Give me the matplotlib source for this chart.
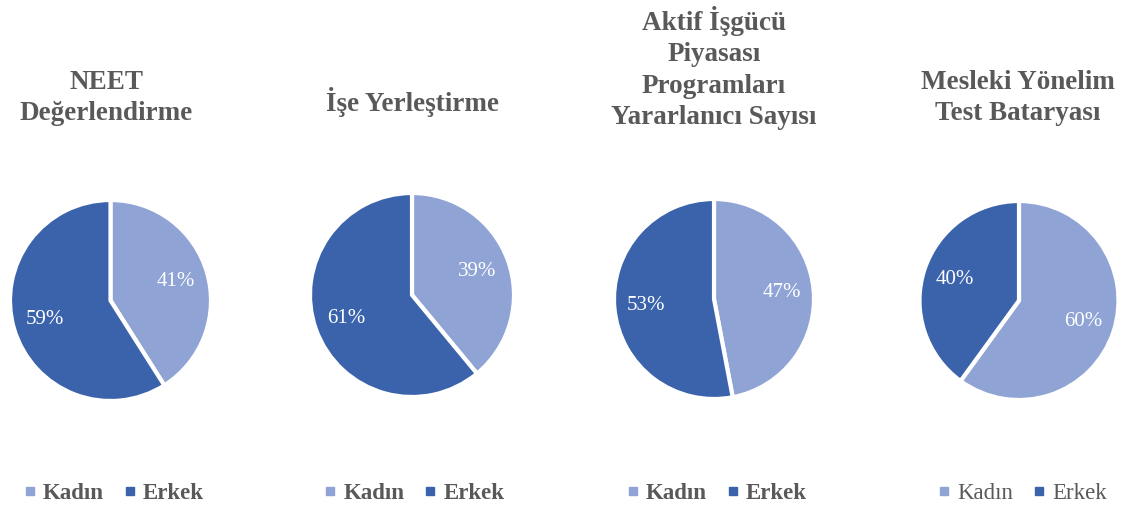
import matplotlib
matplotlib.use("Agg")
import matplotlib.pyplot as plt
from matplotlib.lines import Line2D

plt.rcParams["font.family"] = ["Liberation Serif", "DejaVu Serif"]

# veriler
titles = ["NEET\nDeğerlendirme", "İşe Yerleştirme",
          "Aktif İşgücü\nPiyasası\nProgramları\nYararlanıcı Sayısı",
          "Mesleki Yönelim\nTest Bataryası"]
labels = ["Kadın", "Erkek"]
kadin = [41, 39, 47, 60]
erkek = [59, 61, 53, 40]
legend_bold = [True, True, True, False]

colors = ["#8FA3D5", "#3B63AB"]
gray = "#595959"

W, H = 1126, 511
# piksel cinsinden pasta merkezleri ve yarıçap
centers = [(110.5, 300.5, 100.5), (412, 295, 102), (714, 299, 100), (1019, 300.5, 99.5)]
title_pos = [(106, 98), (412, 102), (714, 68), (1018, 98)]
legend_x = [115, 415.5, 718, 1023.5]

fig = plt.figure(figsize=(W / 100, H / 100), dpi=100)

for i in range(4):
    cx, cy, r = centers[i]
    ax = fig.add_axes([(cx - r) / W, (H - cy - r) / H, 2 * r / W, 2 * r / H])
    wedges, _, autotexts = ax.pie(
        [kadin[i], erkek[i]], colors=colors, startangle=90, counterclock=False,
        autopct=lambda p: f"{round(p)}%", pctdistance=0.68, radius=1,
        wedgeprops=dict(edgecolor="white", linewidth=3),
        textprops=dict(color="white", fontsize=15),
    )
    ax.set_xlim(-1, 1)
    ax.set_ylim(-1, 1)
    ax.set_aspect("equal")
    ax.axis("off")

    tx, ty = title_pos[i]
    fig.text(tx / W, 1 - ty / H, titles[i], ha="center", va="center",
             fontsize=19.5, fontweight="bold", color=gray, linespacing=1.33)

    handles = [Line2D([], [], marker="s", linestyle="", markersize=6,
                      color=c) for c in colors]
    weight = "bold" if legend_bold[i] else "normal"
    fig.legend(handles, labels, loc="center", ncol=2,
               bbox_to_anchor=(legend_x[i] / W, 1 - 493 / H), frameon=False,
               handlelength=0.35, handletextpad=0.4, columnspacing=0.95,
               prop=dict(size=16.5, weight=weight), labelcolor=gray)

fig.savefig("out.png", dpi=100)
